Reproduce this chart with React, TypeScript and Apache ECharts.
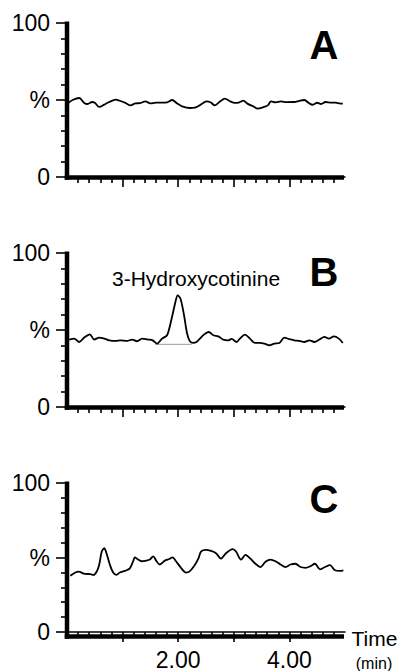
import React, { useEffect, useRef } from "react";
import * as echarts from "echarts";

// Trace A (time in min, intensity %)
const timeA = [0.02, 0.1, 0.22, 0.31, 0.37, 0.45, 0.5, 0.58, 0.67, 0.76, 0.875, 0.95, 1.05, 1.14, 1.23, 1.32, 1.41, 1.5, 1.6, 1.71, 1.8, 1.89, 1.98, 2.07, 2.21, 2.3, 2.36, 2.45, 2.51, 2.58, 2.66, 2.75, 2.84, 2.93, 3.02, 3.1, 3.17, 3.25, 3.35, 3.43, 3.52, 3.61, 3.67, 3.75, 3.85, 3.95, 4.09, 4.18, 4.27, 4.35, 4.42, 4.5, 4.57, 4.65, 4.75, 4.83, 4.9, 4.96];
const valueA = [48, 50, 51.3, 48.1, 47.4, 48.7, 48.2, 45.5, 47, 48.7, 50.2, 49.5, 48.1, 46.5, 47.8, 48, 49.1, 47.8, 48.3, 48.3, 48.5, 50, 47.8, 45.9, 44.8, 45, 45.9, 48, 49.1, 48.5, 46.5, 49, 50.9, 49.2, 48.1, 48.5, 49.6, 47.5, 45.9, 44.4, 45.2, 46.5, 49.1, 48.5, 49.1, 48.6, 48.7, 49.5, 50, 48, 46.9, 48.2, 47.4, 48.7, 48.3, 48.3, 47.8, 47.6];

// Trace B
const timeB = [0.04, 0.13, 0.22, 0.31, 0.41, 0.49, 0.58, 0.67, 0.76, 0.875, 0.96, 1.08, 1.17, 1.26, 1.35, 1.47, 1.54, 1.62, 1.71, 1.8, 1.875, 1.95, 1.99, 2.04, 2.1, 2.16, 2.21, 2.27, 2.33, 2.39, 2.45, 2.55, 2.63, 2.72, 2.81, 2.9, 2.96, 3.05, 3.11, 3.2, 3.29, 3.38, 3.46, 3.55, 3.64, 3.73, 3.82, 3.91, 4.0, 4.09, 4.18, 4.27, 4.36, 4.45, 4.54, 4.63, 4.71, 4.8, 4.89, 4.96];
const valueB = [43.8, 44.4, 42.2, 45.1, 47.2, 43.8, 45.1, 44.4, 43.3, 42.9, 43.3, 42.9, 43.8, 42.7, 44.4, 43.8, 43.3, 41.2, 44.4, 46.6, 56.3, 68.2, 72.5, 70.4, 60.6, 47.7, 42.7, 41.6, 42.2, 44.4, 46.6, 48.7, 46.6, 45.9, 43.8, 43.3, 44.2, 42.2, 44.4, 47, 44.4, 41.6, 41.6, 41.2, 40.1, 41.2, 41.6, 45.1, 44, 43.3, 42.9, 42.2, 43.3, 42.2, 43.8, 45.5, 44.4, 45.9, 44.4, 41.6];

// Integration baseline under the 3-Hydroxycotinine peak
const baselineTime = [1.59, 2.24];
const baselineValue = [40.7, 40.7];

// Trace C
const timeC = [0.06, 0.15, 0.21, 0.3, 0.42, 0.48, 0.54, 0.58, 0.625, 0.67, 0.71, 0.77, 0.83, 0.89, 0.95, 1.04, 1.13, 1.19, 1.22, 1.28, 1.34, 1.43, 1.49, 1.55, 1.61, 1.67, 1.76, 1.84, 1.9, 1.96, 2.05, 2.14, 2.2, 2.29, 2.36, 2.41, 2.5, 2.59, 2.68, 2.77, 2.86, 2.98, 3.04, 3.13, 3.21, 3.3, 3.39, 3.48, 3.57, 3.66, 3.75, 3.84, 3.93, 4.02, 4.11, 4.2, 4.29, 4.38, 4.46, 4.55, 4.64, 4.73, 4.82, 4.91, 4.97];
const valueC = [37.7, 39.9, 40.5, 39.2, 38.8, 38.3, 41, 45.3, 54, 56.2, 52.9, 45.3, 39.9, 38.3, 39.9, 41, 42.7, 47.5, 50.1, 48.6, 47.5, 47.9, 48.6, 50.8, 47.5, 45.3, 47.9, 49, 50.1, 47.5, 43.1, 39.9, 40.5, 44.5, 49, 54, 55.1, 54.4, 52.9, 49.2, 52.9, 55.6, 54, 48.6, 51.8, 49.2, 45.8, 43.6, 47.1, 48.6, 47.5, 45.3, 43.6, 45.3, 45.8, 43.6, 43.1, 44.2, 45.8, 42, 43.6, 44.9, 41.4, 41, 41.4];

const panelLetters = ["A", "B", "C"];
const peakLabel = "3-Hydroxycotinine";
const xLabelValues = [2, 4];
const xMajorTicks = [1, 2, 3, 4];
const yTickLabels: Record<number, string> = { 0: "0", 50: "%", 100: "100" };

const FONT = '"Liberation Sans", Arial, Helvetica, sans-serif';

const zip = (t: number[], v: number[]) => t.map((x, i) => [x, v[i]]);

export default function App() {
  const ref = useRef<HTMLDivElement>(null);
  useEffect(() => {
    if (!ref.current) return;
    const chart = echarts.init(ref.current, null, { renderer: "svg" });
    const grids = [
      { left: 67, width: 278, top: 23, height: 154 },
      { left: 67, width: 278, top: 253, height: 154 },
      { left: 67, width: 278, top: 483, height: 153 },
    ];
    const AXIS_W = 4.5;
    const tick = () => ({ color: "#000", width: 1.6 });
    const xAxes = grids.map((_, i) => ({
      type: "value",
      gridIndex: i,
      min: 0,
      max: 5,
      interval: 1,
      axisLine: { show: true, onZero: false, lineStyle: { color: "#000", width: 1.5 } },
      axisTick: { show: true, length: 10, lineStyle: tick(), customValues: xMajorTicks.slice() },
      minorTick: { show: true, splitNumber: 5, length: 6, lineStyle: tick() },
      splitLine: { show: false },
      minorSplitLine: { show: false },
      axisLabel:
        i === 2
          ? {
              show: true,
              customValues: xLabelValues.slice(),
              formatter: (v: number) => v.toFixed(2),
              fontSize: 23,
              color: "#000",
              fontFamily: FONT,
              margin: 16,
            }
          : { show: false },
    }));
    const yAxes = grids.map((_, i) => ({
      type: "value",
      gridIndex: i,
      min: 0,
      max: 100,
      interval: 50,
      axisLine: { show: true, onZero: false, lineStyle: { color: "#000", width: 1.5 } },
      axisTick: { show: true, length: 11, lineStyle: tick() },
      minorTick: { show: true, splitNumber: 5, length: 6, lineStyle: tick() },
      splitLine: { show: false },
      minorSplitLine: { show: false },
      axisLabel: {
        show: true,
        formatter: (v: number) => yTickLabels[v] ?? "",
        fontSize: 23,
        color: "#000",
        fontFamily: FONT,
        margin: 17,
      },
    }));
    const series: any[] = [
      { data: zip(timeA, valueA), idx: 0 },
      { data: zip(timeB, valueB), idx: 1 },
      { data: zip(timeC, valueC), idx: 2 },
    ].map((s) => ({
      type: "line",
      xAxisIndex: s.idx,
      yAxisIndex: s.idx,
      data: s.data,
      showSymbol: false,
      smooth: 0.3,
      lineStyle: { color: "#000", width: 1.8 },
      z: 3,
    }));
    series.push({
      type: "line",
      xAxisIndex: 1,
      yAxisIndex: 1,
      data: zip(baselineTime, baselineValue),
      showSymbol: false,
      lineStyle: { color: "#999", width: 1 },
      z: 2,
    });
    const graphic: any[] = [];
    // Heavy axis frame for each panel, as filled bars along the grid edges
    grids.forEach((g) => {
      const bottom = g.top + g.height;
      graphic.push(
        {
          type: "rect",
          z: 50,
          silent: true,
          shape: { x: g.left - AXIS_W / 2, y: g.top - 1.5, width: AXIS_W, height: g.height + 1.5 + AXIS_W / 2 + 0.5 },
          style: { fill: "#000" },
        },
        {
          type: "rect",
          z: 50,
          silent: true,
          shape: { x: g.left - AXIS_W / 2, y: bottom - AXIS_W / 2 + 0.5, width: g.width + AXIS_W / 2 - 1, height: AXIS_W },
          style: { fill: "#000" },
        }
      );
    });
    const letterY = [45, 271.5, 498.5];
    panelLetters.forEach((l, i) =>
      graphic.push({
        type: "text",
        x: 324,
        y: letterY[i],
        style: {
          text: l,
          font: `bold 40px ${FONT}`,
          fill: "#000",
          textAlign: "center",
          textVerticalAlign: "middle",
        },
      })
    );
    graphic.push(
      {
        type: "text",
        x: 112,
        y: 278.5,
        style: { text: peakLabel, font: `21px ${FONT}`, fill: "#000", textAlign: "left", textVerticalAlign: "middle" },
      },
      {
        type: "text",
        x: 374.5,
        y: 638.5,
        style: { text: "Time", font: `21px ${FONT}`, fill: "#000", textAlign: "center", textVerticalAlign: "middle" },
      },
      {
        type: "text",
        x: 374,
        y: 663,
        style: { text: "(min)", font: `16px ${FONT}`, fill: "#000", textAlign: "center", textVerticalAlign: "middle" },
      }
    );
    chart.setOption({
      animation: false,
      backgroundColor: "#fff",
      grid: grids,
      xAxis: xAxes,
      yAxis: yAxes,
      series,
      graphic,
    } as any);
    return () => chart.dispose();
  }, []);
  return (
    <div
      ref={ref}
      style={{ position: "fixed", left: 0, top: 0, width: 398, height: 671, background: "#fff" }}
    />
  );
}
